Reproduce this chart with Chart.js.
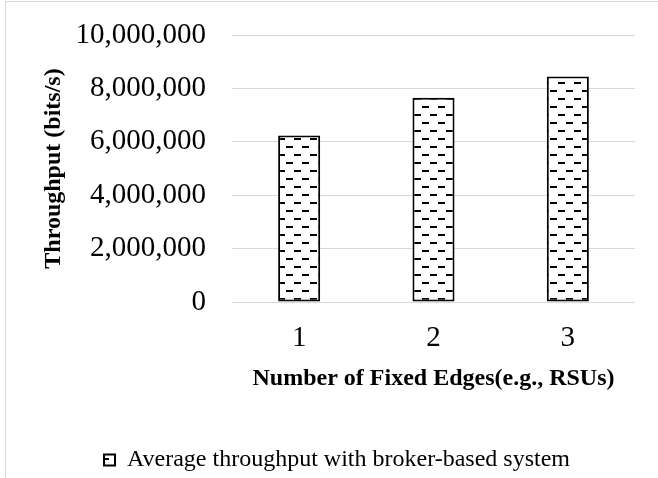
<!DOCTYPE html>
<html>
<head>
<meta charset="utf-8">
<script src="https://cdn.jsdelivr.net/npm/chart.js@4.4.1/dist/chart.umd.min.js"></script>
<style>
  html, body { margin: 0; padding: 0; background: #fff; overflow: hidden; }
  .frame { position: absolute; left: 5px; top: 1px; width: 800px; height: 600px; border: 1px solid #d9d9d9; }
  .chart-box { position: absolute; left: 0; top: 0; width: 658px; height: 500px; }
</style>
</head>
<body>
<div class="frame"></div>
<div class="chart-box"><canvas id="throughputChart"></canvas></div>
<script>
const categories = ['1', '2', '3'];
const throughput = [6240000, 7650000, 8450000];
const seriesLabel = 'Average throughput with broker-based system';
const yTitle = 'Throughput (bits/s)';
const xTitle = 'Number of Fixed Edges(e.g., RSUs)';

// dashed horizontal fill, like the office "dashed" pattern
function makeDashPattern() {
  const c = document.createElement('canvas');
  c.width = 16;
  c.height = 16;
  const g = c.getContext('2d');
  g.fillStyle = '#fff';
  g.fillRect(0, 0, 16, 16);
  g.fillStyle = '#000';
  g.fillRect(6, 10, 7, 2);
  g.fillRect(14, 2, 7, 2);
  g.fillRect(-2, 2, 7, 2);
  return g.createPattern(c, 'repeat');
}

const serif = 'Liberation Serif, Times New Roman, serif';
const pattern = makeDashPattern();

const ctx = document.getElementById('throughputChart').getContext('2d');
new Chart(ctx, {
  type: 'bar',
  data: {
    labels: categories,
    datasets: [{
      label: seriesLabel,
      data: throughput,
      backgroundColor: pattern,
      borderColor: '#000',
      borderWidth: 2,
      borderSkipped: false,
      barPercentage: 1,
      categoryPercentage: 0.313
    }]
  },
  options: {
    responsive: true,
    maintainAspectRatio: false,
    animation: false,
    layout: {
      padding: { left: 39, right: 23, top: 35, bottom: 18 }
    },
    plugins: {
      tooltip: { enabled: false },
      legend: {
        position: 'bottom',
        labels: {
          boxWidth: 11,
          boxHeight: 11,
          padding: 10,
          color: '#000',
          font: { family: serif, size: 24 }
        }
      }
    },
    scales: {
      x: {
        grid: { display: false },
        border: { display: false },
        ticks: {
          color: '#000',
          padding: 11,
          font: { family: serif, size: 29 }
        },
        title: {
          display: true,
          text: xTitle,
          color: '#000',
          padding: { top: 0, bottom: 45 },
          font: { family: serif, size: 24, weight: 'bold' }
        },
        afterFit: scale => { scale.height = 136; }
      },
      y: {
        min: 0,
        max: 10000000,
        // gap between labels and plot made with an invisible tick mark
        grid: { color: '#d9d9d9', lineWidth: 1, drawTicks: true, tickLength: 26, tickColor: 'rgba(0,0,0,0)' },
        border: { display: false },
        ticks: {
          stepSize: 2000000,
          color: '#000',
          padding: 0,
          font: { family: serif, size: 29 },
          callback: v => v.toLocaleString('en-US')
        },
        title: {
          display: true,
          text: yTitle,
          color: '#000',
          padding: 0,
          font: { family: serif, size: 24, weight: 'bold' }
        },
        afterFit: scale => { scale.width = 193; }
      }
    }
  }
});
</script>
</body>
</html>
